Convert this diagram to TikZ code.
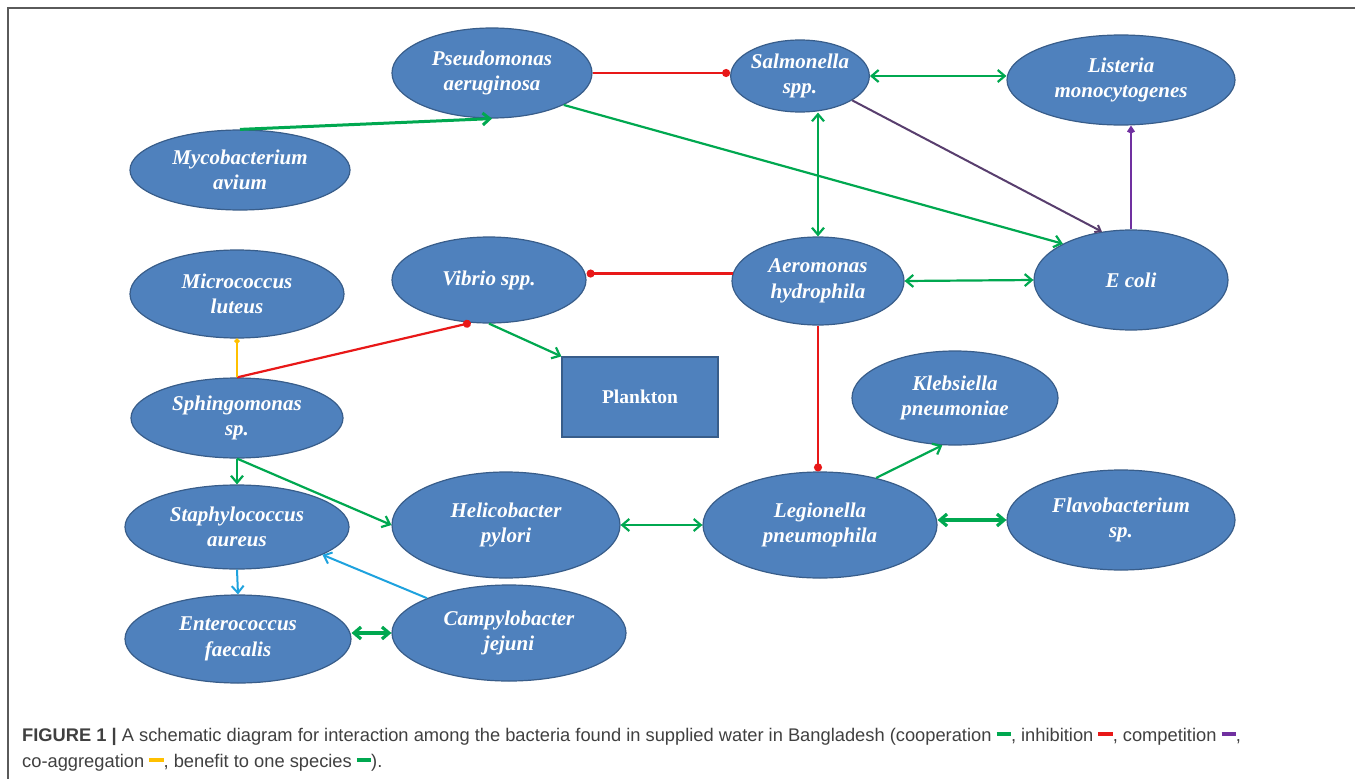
\documentclass[tikz,border=0pt]{standalone}
\usepackage{fontspec}
\setmainfont{Liberation Serif}
\newfontfamily\capfont{Liberation Sans}
\usetikzlibrary{shapes.geometric,arrows.meta,calc}
\definecolor{bfill}{RGB}{79,129,189}
\definecolor{bline}{RGB}{56,93,138}
\definecolor{cgreen}{RGB}{0,168,80}
\definecolor{cred}{RGB}{232,24,24}
\definecolor{cpurple}{RGB}{112,48,160}
\definecolor{cdpurple}{RGB}{88,62,110}
\definecolor{cyellow}{RGB}{255,192,0}
\definecolor{cblue}{RGB}{30,162,222}
\definecolor{captext}{RGB}{64,64,64}
\definecolor{framec}{RGB}{90,90,90}
\newcommand{\lgbar}[1]{\textcolor{#1}{\rule[0.3em]{0.78em}{0.17em}}}
\tikzset{
  bact/.style={ellipse, draw=bline, line width=1.2pt, fill=bfill, text=white,
    font=\bfseries\itshape\fontsize{21}{25.5}\selectfont, align=center, inner sep=0pt},
  boxnode/.style={rectangle, draw=bline, line width=1.2pt, fill=bfill, text=white,
    font=\bfseries\fontsize{19.5}{23}\selectfont, inner sep=0pt},
  coop/.style={draw=cgreen, line width=2.2pt, -{Straight Barb[length=7pt,width=12pt]}},
  coopboth/.style={draw=cgreen, line width=2.2pt, {Straight Barb[length=7pt,width=12pt]}-{Straight Barb[length=7pt,width=12pt]}},
  coopthick/.style={draw=cgreen, line width=3.2pt, {Straight Barb[length=7pt,width=12pt]}-{Straight Barb[length=7pt,width=12pt]}},
  inhib/.style={draw=cred, line width=2.2pt, -{Circle[length=8pt]}},
  compet/.style={draw=cdpurple, line width=2pt, -{Straight Barb[length=5pt,width=8pt]}},
  competb/.style={draw=cpurple, line width=2.4pt, -{Kite[length=8pt,width=8pt]}},
  coagg/.style={draw=cyellow, line width=2pt, -{Circle[length=5pt]}},
  bene/.style={draw=cblue, line width=2pt, -{Straight Barb[length=7pt,width=12pt]}},
  captxt/.style={anchor=base west, inner sep=0pt, text=captext, font=\capfont\fontsize{18.3}{22}\selectfont}
}
\begin{document}
\begin{tikzpicture}[x=1pt,y=-1pt]
\useasboundingbox (0,0) rectangle (1355,779);
\fill[white] (0,0) rectangle (1355,779);
\coordinate (fr1) at (8,779);
\coordinate (fr2) at (8,8);
\coordinate (fr3) at (1355,8);
\draw[framec, line width=1.5pt] (fr1) -- (fr2) -- (fr3);

% nodes
\node[bact, minimum width=200pt, minimum height=90pt] (pse) at (492,73) {Pseudomonas\\aeruginosa};
\node[bact, minimum width=136pt, minimum height=72pt] (sal) at (800,76) {Salmonella\\spp.};
\node[bact, minimum width=228pt, minimum height=90pt] (lis) at (1121,80) {Listeria\\monocytogenes};
\node[bact, minimum width=220pt, minimum height=80pt] (myc) at (240,170) {Mycobacterium\\avium};
\node[bact, minimum width=214pt, minimum height=88pt] (mic) at (237,294) {Micrococcus\\luteus};
\node[bact, minimum width=194pt, minimum height=86pt] (vib) at (489,280) {Vibrio spp.};
\node[bact, minimum width=172pt, minimum height=88pt] (aer) at (818,281) {Aeromonas\\hydrophila};
\node[bact, minimum width=194pt, minimum height=100pt] (eco) at (1131,280) {E coli};
\node[boxnode, minimum width=156pt, minimum height=80pt] (pla) at (640,397) {Plankton};
\node[bact, minimum width=212pt, minimum height=80pt] (sph) at (237,418) {Sphingomonas\\sp.};
\node[bact, minimum width=206pt, minimum height=94pt] (kle) at (955,398) {Klebsiella\\pneumoniae};
\node[bact, minimum width=234pt, minimum height=106pt] (leg) at (820,525) {Legionella\\pneumophila};
\node[bact, minimum width=228pt, minimum height=100pt] (fla) at (1121,520) {Flavobacterium\\sp.};
\node[bact, minimum width=228pt, minimum height=106pt] (hel) at (506,525) {Helicobacter\\pylori};
\node[bact, minimum width=224pt, minimum height=84pt] (sta) at (237,527) {Staphylococcus\\aureus};
\node[bact, minimum width=226pt, minimum height=88pt] (ent) at (238,639) {Enterococcus\\faecalis};
\node[bact, minimum width=234pt, minimum height=96pt] (cam) at (509,633) {Campylobacter\\jejuni};

% connectors
\draw[inhib] (pse.east) -- (pse.east -| sal.west);
\draw[coopboth] (sal.east) -- (sal.east -| lis.west);
\draw[draw=cgreen, line width=3pt, -{Straight Barb[length=7pt,width=12pt]}] (myc.north) -- (pse.south);
\draw[coop] (pse.-24) -- (eco.152);
\draw[compet] (sal.-25) -- (eco.121);
\draw[competb] (eco.north) -- (eco.north |- lis.south);
\draw[coopboth] (aer.north) -- (aer.north |- sal.south);
\draw[inhib] (aer.175) -- (aer.175 -| vib.east);
\draw[coopboth] (aer.east) -- (eco.west);
\draw[inhib] (aer.south) -- (aer.south |- leg.north);
\draw[inhib] (sph.north) -- (vib.-113);
\draw[coagg] (sph.north) -- (mic.south);
\draw[coop] (vib.south) -- (pla.north west);
\draw[coop] (sph.south) -- (sta.north);
\draw[coop] (sph.south) -- (hel.west);
\draw[coopboth] (hel.east) -- (leg.west);
\draw[coop] (leg.40) -- (kle.-105);
\draw[coopthick] (fla.west -| leg.east) -- (fla.west);
\draw[bene] (sta.south) -- (ent.north);
\draw[bene] (cam.157) -- (sta.-18);
\draw[coopthick] (cam.west -| ent.east) -- (cam.west);

% caption
\node[captxt] (cap1) at (22,741) {\textbf{FIGURE 1 |} A schematic diagram for interaction among the bacteria found in supplied water in Bangladesh (cooperation \lgbar{cgreen}, inhibition \lgbar{cred}, competition \lgbar{cpurple},};
\node[captxt] (cap2) at (22,767) {co-aggregation \lgbar{cyellow}, benefit to one species \lgbar{cgreen}).};
\end{tikzpicture}
\end{document}
